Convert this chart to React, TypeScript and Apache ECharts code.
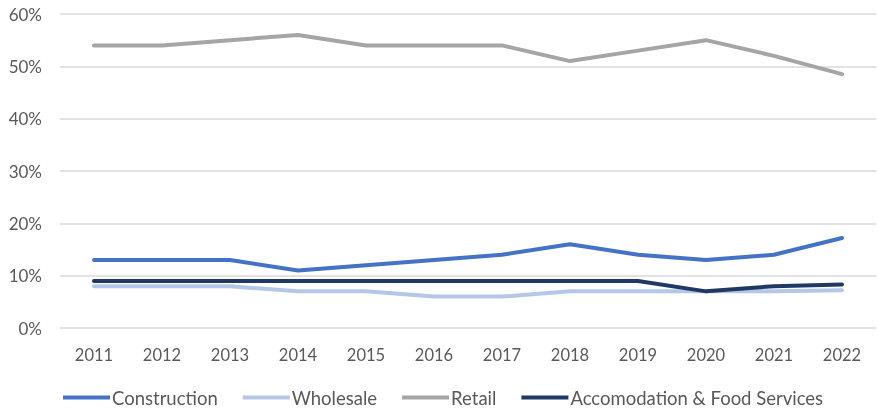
import React, { useEffect, useRef } from "react";
import * as echarts from "echarts";

const years = ["2011", "2012", "2013", "2014", "2015", "2016", "2017", "2018", "2019", "2020", "2021", "2022"];
const construction = [13, 13, 13, 11, 12, 13, 14, 16, 14, 13, 14, 17.2];
const wholesale = [8, 8, 8, 7, 7, 6, 6, 7, 7, 7, 7, 7.2];
const retail = [54, 54, 55, 56, 54, 54, 54, 51, 53, 55, 52, 48.5];
const accommodation = [9, 9, 9, 9, 9, 9, 9, 9, 9, 7, 8, 8.3];

const seriesNames = ["Construction", "Wholesale", "Retail", "Accomodation & Food Services"];
const seriesColors = ["#4472C4", "#B4C7E7", "#A5A5A5", "#203864"];

const FONT = "Lato, 'Open Sans', sans-serif";

export default function App() {
  const ref = useRef<HTMLDivElement>(null);
  useEffect(() => {
    if (!ref.current) return;
    const chart = echarts.init(ref.current, undefined, { renderer: "svg" });
    const datas = [construction, wholesale, retail, accommodation];
    chart.setOption({
      animation: false,
      grid: { left: 60, right: 1, top: 14, bottom: 85 },
      legend: {
        top: 388,
        left: 63,
        padding: 0,
        itemWidth: 47,
        itemHeight: 4,
        itemGap: 25,
        icon: "rect",
        textStyle: { fontFamily: FONT, fontSize: 18.5, color: "#595959", padding: [0, 0, 0, -3] },
        data: seriesNames,
      },
      xAxis: {
        type: "category",
        data: years,
        boundaryGap: true,
        axisLine: { show: false },
        axisTick: { show: false },
        axisLabel: { fontFamily: FONT, fontSize: 16.5, color: "#595959", margin: 18 },
      },
      yAxis: {
        type: "value",
        min: 0,
        max: 60,
        interval: 10,
        axisLabel: { fontFamily: FONT, fontSize: 17, color: "#595959", margin: 18, formatter: "{value}%" },
        splitLine: { lineStyle: { color: "#D9D9D9", width: 1.5 } },
        axisLine: { show: false },
        axisTick: { show: false },
      },
      series: seriesNames.map((name, i) => ({
        name,
        type: "line",
        data: datas[i],
        showSymbol: false,
        symbol: "none",
        lineStyle: { color: seriesColors[i], width: 4, cap: "round", join: "round" },
        itemStyle: { color: seriesColors[i] },
      })),
    });
    return () => chart.dispose();
  }, []);
  return <div ref={ref} style={{ position: "fixed", left: 0, top: 0, width: 877, height: 413 }} />;
}
